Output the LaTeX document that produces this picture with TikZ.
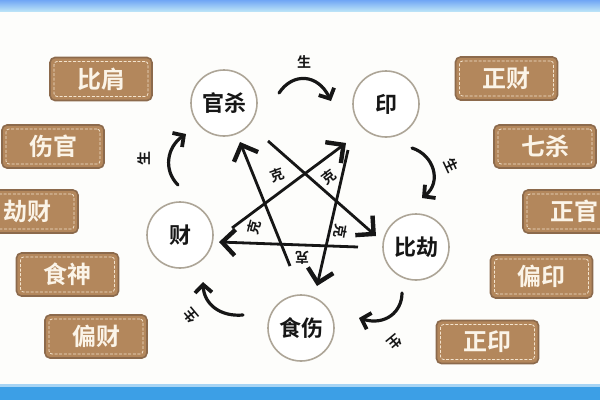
\documentclass[tikz,border=0pt]{standalone}
\usepackage{fontspec}
\usetikzlibrary{arrows.meta}
\newfontfamily\cjk{Noto Sans CJK SC Bold}
\definecolor{boxfill}{HTML}{B3875C}
\definecolor{boxedge}{HTML}{8C6A4C}
\definecolor{boxdash}{HTML}{F4E4CE}
\definecolor{boxtext}{HTML}{FBF4E8}
\definecolor{ringgray}{HTML}{ADA597}
\definecolor{inkblack}{HTML}{161616}
\definecolor{bandtop}{HTML}{8CCFF2}
\definecolor{bandbot}{HTML}{3C9FE6}
\definecolor{paper}{HTML}{FDFDFB}
\tikzset{
  tagbox/.style={draw=boxedge, line width=1.6pt, fill=boxfill, rounded corners=5pt,
    minimum width=102pt, minimum height=43pt, inner sep=0pt,
    text=boxtext, font=\cjk\fontsize{24}{24}\selectfont},
  taginner/.style={draw=boxdash, line width=0.8pt, dash pattern=on 3pt off 1.6pt,
    rounded corners=3pt, minimum width=94pt, minimum height=35pt, inner sep=0pt},
  ring/.style={circle, draw=ringgray, line width=1.6pt, fill=white,
    minimum size=66pt, inner sep=0pt, text=inkblack, font=\cjk\fontsize{22}{22}\selectfont},
  keline/.style={draw=inkblack, line width=2.8pt,
    -{Straight Barb[length=13pt,width=26pt,line width=4.4pt]}},
  shengarc/.style={draw=inkblack, line width=3.2pt, line cap=round,
    -{Straight Barb[length=8pt,width=17pt,line width=3.8pt]}},
  kelabel/.style={text=inkblack, font=\cjk\fontsize{14}{14}\selectfont, inner sep=0pt},
  shenglabel/.style={text=inkblack, font=\cjk\fontsize{14}{14}\selectfont, inner sep=0pt}
}
\begin{document}
\begin{tikzpicture}[x=1pt,y=-1pt]
\useasboundingbox (0,0) rectangle (600,400);
\fill[paper] (0,0) rectangle (600,400);
% bands
\shade[top color=bandtop!80!blue, bottom color=bandtop!60!white] (0,0) rectangle (600,11);
\fill[bandbot] (0,386) rectangle (600,400);
\fill[bandbot!45!white] (0,384) rectangle (600,387);

% left tags
\node[tagbox] (bijian) at (101,79) {比肩};
\node[taginner] (bijianI) at (101,79) {};
\node[tagbox] (shangguan) at (53,146.5) {伤官};
\node[taginner] (shangguanI) at (53,146.5) {};
\node[tagbox] (jiecai) at (27,211.5) {劫财};
\node[taginner] (jiecaiI) at (27,211.5) {};
\node[tagbox] (shishen) at (67.5,274.5) {食神};
\node[taginner] (shishenI) at (67.5,274.5) {};
\node[tagbox] (piancai) at (96,336.5) {偏财};
\node[taginner] (piancaiI) at (96,336.5) {};
% right tags
\node[tagbox] (zhengcai) at (506.5,78.5) {正财};
\node[taginner] (zhengcaiI) at (506.5,78.5) {};
\node[tagbox] (qisha) at (545,146.5) {七杀};
\node[taginner] (qishaI) at (545,146.5) {};
\node[tagbox] (zhengguan) at (574,211.5) {正官};
\node[taginner] (zhengguanI) at (574,211.5) {};
\node[tagbox] (pianyin) at (541.5,276.5) {偏印};
\node[taginner] (pianyinI) at (541.5,276.5) {};
\node[tagbox] (zhengyin) at (487.5,342) {正印};
\node[taginner] (zhengyinI) at (487.5,342) {};

% circles
\node[ring] (gs) at (224,103) {官杀};
\node[ring] (yin) at (386,104) {印};
\node[ring] (cai) at (180,235) {财};
\node[ring] (bj) at (416,247) {比劫};
\node[ring] (ss) at (301,328) {食伤};

% star (ke) lines
\coordinate (aS) at (290,266); \coordinate (aT) at (240,142);
\coordinate (bS) at (268,141); \coordinate (bT) at (376,236);
\coordinate (cS) at (232,228); \coordinate (cT) at (346,143);
\coordinate (dS) at (358,247); \coordinate (dT) at (219,242);
\coordinate (eS) at (348,150); \coordinate (eT) at (317,286);
\draw[keline] (aS) -- (aT);
\draw[keline] (bS) -- (bT);
\draw[keline] (cS) -- (cT);
\draw[keline] (dS) -- (dT);
\draw[keline] (eS) -- (eT);
\node[kelabel, rotate=20] (k1) at (277,175) {克};
\node[kelabel, rotate=37] (k2) at (329,177) {克};
\node[kelabel, rotate=75] (k3) at (254,227) {克};
\node[kelabel, rotate=-100] (k4) at (341,231) {克};
\node[kelabel, rotate=180] (k5) at (302,258) {克};

% sheng arcs
\coordinate (s1S) at (279,93);  \coordinate (s1T) at (331,101);
\coordinate (s2S) at (412,148); \coordinate (s2T) at (422,198);
\coordinate (s3S) at (402,293); \coordinate (s3T) at (359,318);
\coordinate (s4S) at (243,315); \coordinate (s4T) at (203,282);
\coordinate (s5S) at (178,185); \coordinate (s5T) at (186,134);
\draw[shengarc] (s1S) .. controls (293,72) and (318,74) .. (s1T);
\draw[shengarc] (s2S) .. controls (434,155) and (442,182) .. (s2T);
\draw[shengarc] (s3S) .. controls (402,312) and (385,326) .. (s3T);
\draw[shengarc] (s4S) .. controls (220,317) and (204,304) .. (s4T);
\draw[shengarc] (s5S) .. controls (163,170) and (167,147) .. (s5T);
\node[shenglabel] (g1) at (304,62) {生};
\node[shenglabel, rotate=-65] (g2) at (451,166) {生};
\node[shenglabel, rotate=-140] (g3) at (395,342) {生};
\node[shenglabel, rotate=130] (g4) at (191,316) {生};
\node[shenglabel, rotate=90] (g5) at (144,158) {生};
\end{tikzpicture}
\end{document}
